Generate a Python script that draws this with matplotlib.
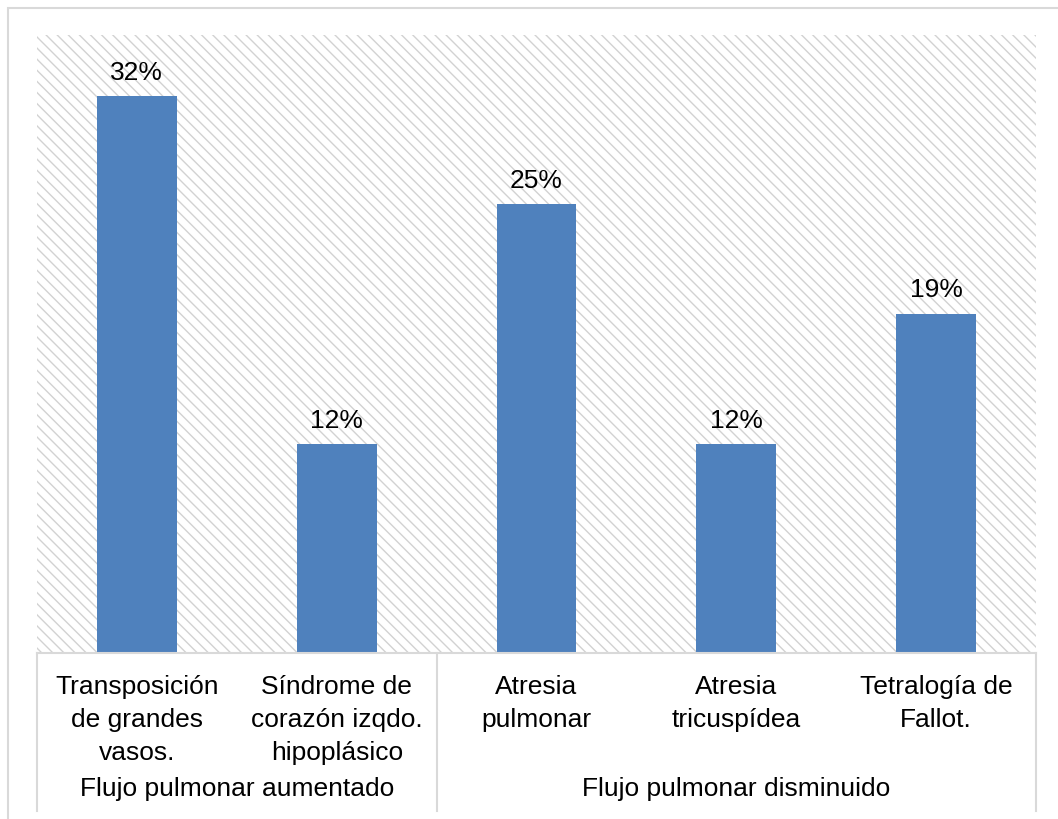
import matplotlib.pyplot as plt
from matplotlib.patches import Rectangle
from matplotlib.lines import Line2D

plt.rcParams['font.family'] = ['Liberation Sans', 'DejaVu Sans']
plt.rcParams['hatch.linewidth'] = 1.0

categorias = ['Transposición\nde grandes\nvasos.',
              'Síndrome de\ncorazón izqdo.\nhipoplásico',
              'Atresia\npulmonar',
              'Atresia\ntricuspídea',
              'Tetralogía de\nFallot.']
valores = [32, 12, 25.8, 12, 19.5]
etiquetas = ['32%', '12%', '25%', '12%', '19%']
grupos = ['Flujo pulmonar aumentado', 'Flujo pulmonar disminuido']
grupo_tam = [2, 3]

gris = '#d9d9d9'
azul = '#4f81bd'

W, H = 1058, 819
fig = plt.figure(figsize=(W / 100, H / 100), dpi=100)

# borde exterior (sale por derecha y abajo)
fig.add_artist(Rectangle((8 / W, -0.05), 1.1, 1 - 8 / H + 0.05, transform=fig.transFigure,
                         facecolor='none', edgecolor=gris, lw=1.5))

left, right, top, bottom = 37, 1036, 35, 653
ax = fig.add_axes([left / W, 1 - bottom / H, (right - left) / W, (bottom - top) / H])

n = len(valores)
x = list(range(n))
ax.set_xlim(-0.5, n - 0.5)
ax.set_ylim(0, 35.5)

# fondo rayado
ax.add_patch(Rectangle((0, 0), 1, 1, transform=ax.transAxes, facecolor='white',
                       edgecolor='#d2d2d2', hatch='\\\\\\', lw=0, zorder=0))

ax.bar(x, valores, width=0.4, color=azul, zorder=2)
for xi, v, lab in zip(x, valores, etiquetas):
    ax.annotate(lab, (xi, v), xytext=(0, 8), textcoords='offset points',
                ha='center', va='bottom', fontsize=19)

for s in ['top', 'right', 'left']:
    ax.spines[s].set_visible(False)
ax.spines['bottom'].set_color(gris)
ax.spines['bottom'].set_linewidth(1.5)
ax.set_xticks([])
ax.set_yticks([])

# tabla de categorias
px = 1.0 / (bottom - top)  # un pixel en coordenadas de ejes
for xi, cat in zip(x, categorias):
    ax.text(xi, -22 * px, cat, ha='center', va='top', fontsize=19,
            linespacing=1.47, transform=ax.get_xaxis_transform())

inicio = 0
fronteras = [-0.5]
for g, t in zip(grupos, grupo_tam):
    ax.text(inicio - 0.5 + t / 2, -(789 - bottom) * px, g, ha='center', va='center',
            fontsize=19, transform=ax.get_xaxis_transform())
    inicio += t
    fronteras.append(inicio - 0.5)

for f in fronteras:
    ax.add_line(Line2D([f, f], [0, -(811 - bottom) * px], color=gris, lw=1.5,
                       transform=ax.get_xaxis_transform(), clip_on=False))

fig.savefig('out.png', dpi=100)
